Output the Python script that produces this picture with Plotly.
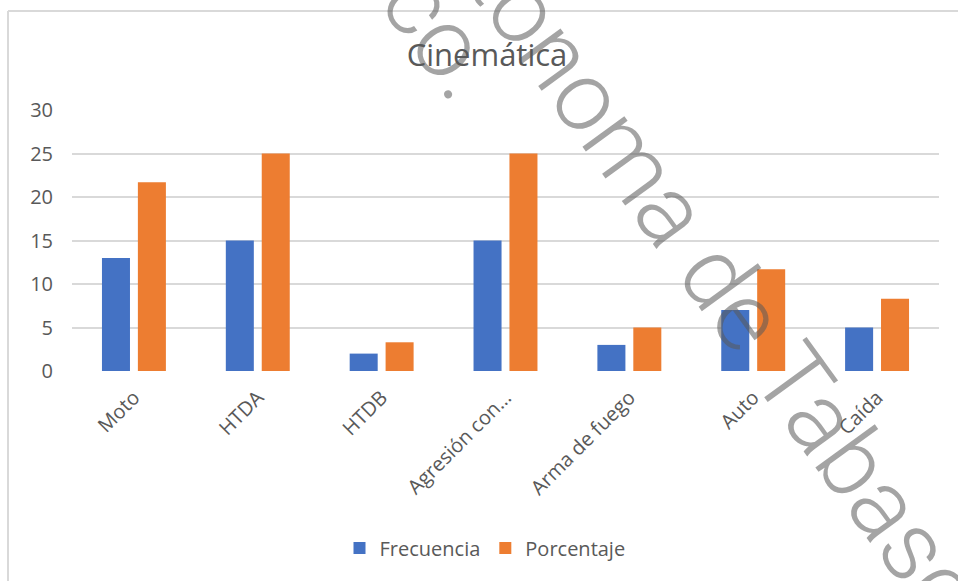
import plotly.graph_objects as go

categories = ["Moto", "HTDA", "HTDB", "Agresión con…", "Arma de fuego", "Auto", "Caída"]
frecuencia = [13, 15, 2, 15, 3, 7, 5]
porcentaje = [21.7, 25, 3.3, 25, 5, 11.7, 8.3]
y_ticks = [0, 5, 10, 15, 20, 25, 30]

W, H = 958, 581
L, R, T, B = 72, 19, 110, 210
pw, ph = W - L - R, H - T - B

def px(x):
    return (x - L) / pw

def py(y):
    return (H - B - y) / ph

FONT = "Open Sans"
GREY = "#595959"

fig = go.Figure()
fig.add_trace(go.Bar(x=categories, y=frecuencia, name="Frecuencia",
                     marker=dict(color="#4472C4", line=dict(width=0))))
fig.add_trace(go.Bar(x=categories, y=porcentaje, name="Porcentaje",
                     marker=dict(color="#ED7D31", line=dict(width=0))))

fig.update_layout(
    width=W, height=H,
    margin=dict(l=L, r=R, t=T, b=B, pad=0),
    paper_bgcolor="white", plot_bgcolor="white",
    barmode="group", bargap=0.42, bargroupgap=0.22,
    font=dict(family=FONT, color=GREY, size=20),
    title=dict(text="Cinemática", x=487 / W, xref="container", xanchor="center",
               y=1 - 55 / H, yref="container", yanchor="middle",
               font=dict(family=FONT, size=31, color=GREY)),
    showlegend=True,
    legend=dict(orientation="h", x=px(485), xanchor="center", y=py(548), yanchor="middle",
                font=dict(family=FONT, size=20, color=GREY), bgcolor="rgba(0,0,0,0)",
                itemwidth=30),
    xaxis=dict(tickangle=-45, showgrid=False, zeroline=False, showline=False, ticks="",
               tickfont=dict(family=FONT, size=20, color=GREY), ticklabelstandoff=10),
    yaxis=dict(range=[0, 30], tickvals=y_ticks, showgrid=True, gridcolor="#d9d9d9",
               gridwidth=1.5, zeroline=False, showline=False, ticks="",
               tickfont=dict(family=FONT, size=20, color=GREY), ticklabelstandoff=18),
)

# chart border (top and left edges visible)
border = dict(color="#d9d9d9", width=2)
fig.add_shape(type="line", xref="paper", yref="paper", x0=px(8), x1=px(W + 10),
              y0=py(11), y1=py(11), line=border)
fig.add_shape(type="line", xref="paper", yref="paper", x0=px(8), x1=px(8),
              y0=py(11), y1=py(H + 10), line=border)

# watermark
wm_font = dict(family="Roboto", size=98, color="rgba(90,90,90,0.55)", weight=300)
fig.add_annotation(text="Autónoma de Tabasco", xref="paper", yref="paper",
                   x=px(708), y=py(262), xanchor="center", yanchor="middle",
                   textangle=54, showarrow=False, font=wm_font)
fig.add_annotation(text="co.", xref="paper", yref="paper",
                   x=px(442), y=py(34), xanchor="center", yanchor="middle",
                   textangle=54, showarrow=False, font=wm_font)

fig.write_html("out.html")
